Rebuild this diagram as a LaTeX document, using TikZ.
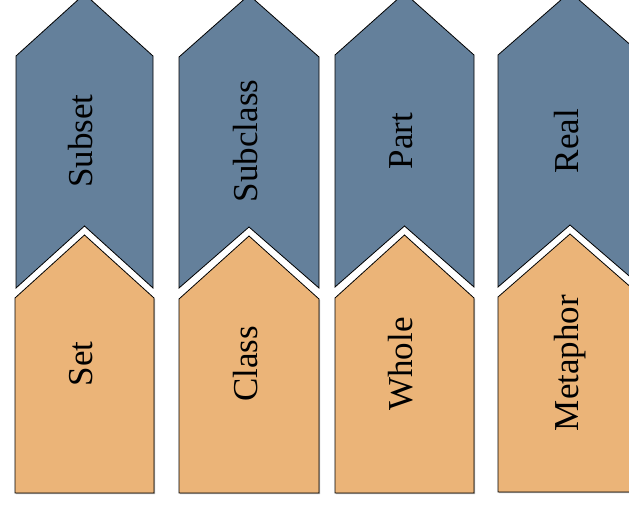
\documentclass[tikz,border=0pt]{standalone}
\usepackage{fontspec}
\setmainfont{Liberation Serif}
\usetikzlibrary{shadows}

\definecolor{slateblue}{RGB}{100,128,155}
\definecolor{sandorange}{RGB}{235,180,120}

\begin{document}
\begin{tikzpicture}[x=1pt,y=-1pt,font=\fontsize{35}{40}\selectfont]

    \tikzstyle{upper}=[draw=black,line width=0.8pt,fill=slateblue]
    \tikzstyle{lower}=[draw=black,line width=0.8pt,fill=sandorange,
                       drop shadow={shadow xshift=1.2pt,shadow yshift=-1.2pt,fill=black!60,opacity=0.5}]
    \tikzstyle{word}=[rotate=90,inner sep=0pt,text height=0.66em,text depth=0pt]

    \useasboundingbox (0,0) rectangle (629,506);
    \clip (0,0) rectangle (629,506);

    % first column
    \draw[upper] (16,56) -- (84.5,-6) -- (153,56) -- (153,288) -- (84.5,226) -- (16,288) -- cycle;
    \draw[lower] (15,298) -- (84.5,235) -- (154,298) -- (154,493) -- (15,493) -- cycle;
    \node[word] (subset)   at (89.5,141)  {Subset};
    \node[word] (set)      at (89.5,364)  {Set};

    % second column
    \draw[upper] (179,57) -- (249,-5) -- (319,57) -- (319,288) -- (249,227) -- (179,288) -- cycle;
    \draw[lower] (179,299) -- (249,236) -- (319,299) -- (319,493) -- (179,493) -- cycle;
    \node[word] (subclass) at (254,141)   {Subclass};
    \node[word] (class)    at (254,364)   {Class};

    % third column
    \draw[upper] (335,55) -- (404.5,-7) -- (474,55) -- (474,287) -- (404.5,226) -- (335,287) -- cycle;
    \draw[lower] (335,298) -- (404.5,235) -- (474,298) -- (474,493) -- (335,493) -- cycle;
    \node[word] (part)     at (409.5,141) {Part};
    \node[word] (whole)    at (409.5,364) {Whole};

    % fourth column, runs past the right edge
    \draw[upper] (498,55) -- (570,-8) -- (642,55) -- (642,287) -- (570,225) -- (498,287) -- cycle;
    \draw[lower] (498,297) -- (570,234) -- (642,297) -- (642,492) -- (498,492) -- cycle;
    \node[word] (real)     at (575,141)   {Real};
    \node[word] (metaphor) at (575,363)   {Metaphor};

\end{tikzpicture}
\end{document}
